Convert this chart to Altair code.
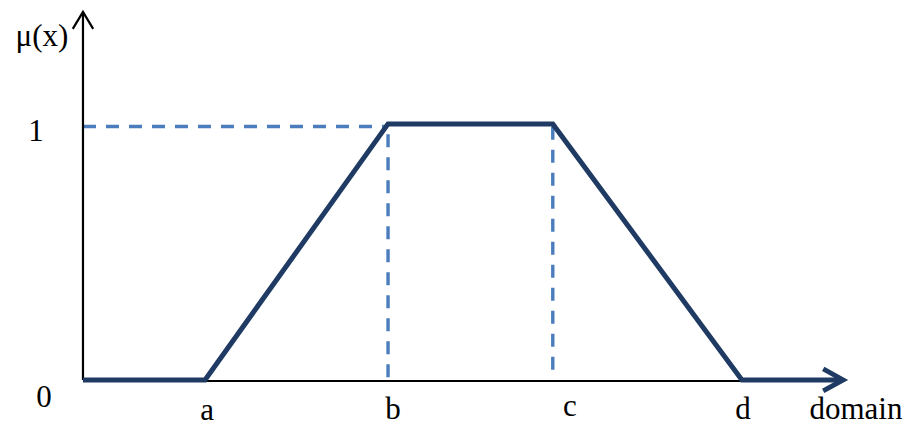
import altair as alt
import pandas as pd

# Trapezoidal membership function: breakpoints a, b, c, d on the domain axis
labels = ["a", "b", "c", "d"]
breaks = [1.0, 2.5, 3.85, 5.4]
membership = [0.0, 1.0, 1.0, 0.0]

# Curve incl. the flat parts at zero before a and after d
curve_x = [0.0] + breaks + [6.2]
curve_y = [0.0] + membership + [0.0]

# Level labels on the vertical axis
levels = ["0", "1"]
level_vals = [0.0, 1.0]

X_DOM = [-0.68, 6.72]
Y_DOM = [-0.18, 1.484]
W, H = 903, 426

NAVY = "#1f3a63"
DASH = "#4b7dbd"
FONT = "Liberation Serif"
FS = 31

xs = alt.Scale(domain=X_DOM, nice=False, zero=False)
ys = alt.Scale(domain=Y_DOM, nice=False, zero=False)


def X(field="x"):
    return alt.X(f"{field}:Q", scale=xs, axis=None)


def Y(field="y"):
    return alt.Y(f"{field}:Q", scale=ys, axis=None)


b, c = breaks[1], breaks[2]

# Axes as plain lines
v_axis = alt.Chart(pd.DataFrame({"x": [0.0], "y": [0.0], "y2": [1.4375]})).mark_rule(
    color="black", strokeWidth=2.2
).encode(x=X(), y=Y(), y2="y2:Q")
h_axis = alt.Chart(pd.DataFrame({"x": [0.0], "x2": [breaks[3]], "y": [-0.004]})).mark_rule(
    color="black", strokeWidth=2
).encode(x=X(), x2="x2:Q", y=Y())

# Dashed guides at membership 1 and at b, c
guides = alt.Chart(pd.DataFrame({
    "x": [0.0, b, c], "x2": [b, b, c], "y": [0.99, 0.01, 0.04], "y2": [0.99, 0.99, 0.99]
})).mark_rule(color=DASH, strokeWidth=3.4, strokeDash=[13, 10]).encode(
    x=X(), x2="x2:Q", y=Y(), y2="y2:Q"
)

curve = alt.Chart(pd.DataFrame({"x": curve_x, "y": curve_y, "o": list(range(len(curve_x)))})).mark_line(
    color=NAVY, strokeWidth=5, strokeJoin="miter"
).encode(x=X(), y=Y(), order="o:Q")

# Arrow heads
up_arrow = alt.Chart(pd.DataFrame({"x": [0.0], "y": [1.4375]})).mark_point(
    shape="M -0.6 1 L 0 0 L 0.6 1", filled=False, stroke="black", strokeWidth=2.2, size=1156, opacity=1
).encode(x=X(), y=Y())
right_arrow = alt.Chart(pd.DataFrame({"x": [6.23], "y": [0.0]})).mark_point(
    shape="M -1 -0.55 L 0 0 L -1 0.55", filled=False, stroke=NAVY, strokeWidth=4.8, size=1600, opacity=1
).encode(x=X(), y=Y())

# Breakpoint labels below the axis (pixel nudges per label)
label_dx = [2, 5, 17, 1]
label_dy = [40, 39, 36, 39]
lab_layers = [
    alt.Chart(pd.DataFrame({"x": [breaks[i]], "t": [labels[i]]})).mark_text(
        font=FONT, fontSize=FS, baseline="alphabetic", align="center",
        dx=label_dx[i], dy=label_dy[i]
    ).encode(x=X(), y=alt.value(380), text="t:N")
    for i in range(len(labels))
]

lev_dy = [27, 17]
lev_x = [44, 36]
lev_layers = [
    alt.Chart(pd.DataFrame({"y": [level_vals[i]], "t": [levels[i]]})).mark_text(
        font=FONT, fontSize=FS, baseline="alphabetic", align="center", dy=lev_dy[i]
    ).encode(x=alt.value(lev_x[i]), y=Y(), text="t:N")
    for i in range(len(levels))
]

y_title = alt.Chart(pd.DataFrame({"t": ["μ(x)"]})).mark_text(
    font=FONT, fontSize=FS, baseline="alphabetic", align="center"
).encode(x=alt.value(42), y=alt.value(46), text="t:N")
x_title = alt.Chart(pd.DataFrame({"t": ["domain"]})).mark_text(
    font=FONT, fontSize=FS, baseline="alphabetic", align="center"
).encode(x=alt.value(856), y=alt.value(419), text="t:N")

chart = alt.layer(
    guides, h_axis, v_axis, curve, up_arrow, right_arrow, *lab_layers, *lev_layers, y_title, x_title
).properties(
    width=W, height=H, padding=0, autosize=alt.AutoSizeParams(type="none"), background="white"
).configure_view(stroke=None)

chart.save("out.html", embed_options={"renderer": "svg", "actions": False})
